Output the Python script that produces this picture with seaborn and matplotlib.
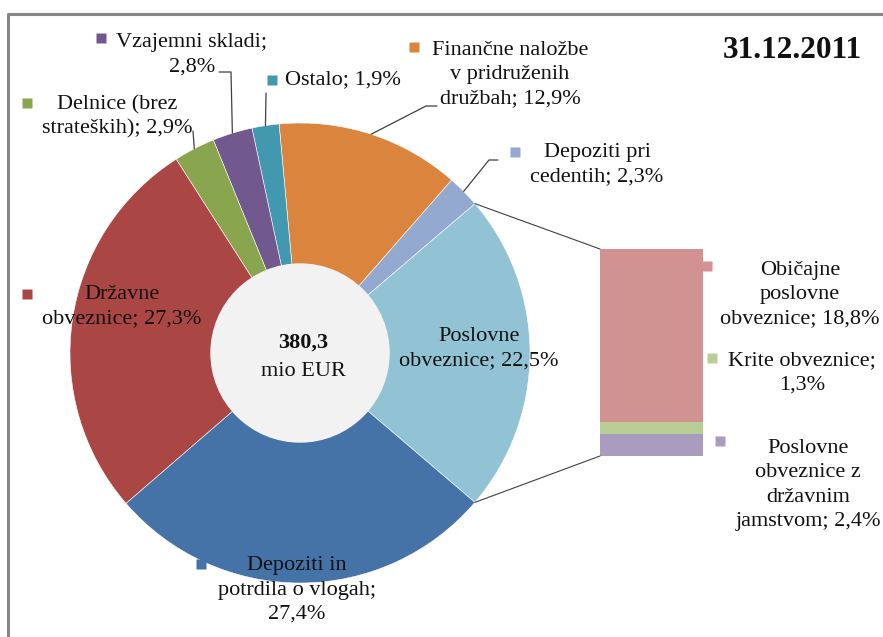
import numpy as np
import matplotlib
matplotlib.use("Agg")
import matplotlib.pyplot as plt
import seaborn as sns
from matplotlib.patches import Circle, ConnectionPatch

sns.set_theme(style="white")
plt.rcParams['font.family'] = ['Liberation Serif', 'DejaVu Serif']

# -------------------------------- data ----------------------------
names = ["Poslovne obveznice", "Depoziti pri cedentih",
         "Finančne naložbe v pridruženih družbah", "Ostalo", "Vzajemni skladi",
         "Delnice (brez strateških)", "Državne obveznice",
         "Depoziti in potrdila o vlogah"]
shares = [22.5, 2.3, 12.9, 1.9, 2.8, 2.9, 27.3, 27.4]
pie_colors = ["#92C3D4", "#94A9D0", "#DB843D", "#4198AF", "#71588F",
              "#89A54E", "#AA4643", "#4572A7"]
# label templates (line breaks as in the original)
pie_templates = ["Poslovne\nobveznice; {}", "Depoziti pri\ncedentih; {}",
                 "Finančne naložbe\nv pridruženih\ndružbah; {}", "Ostalo; {}",
                 "Vzajemni skladi;\n{}", "Delnice (brez\nstrateških); {}",
                 "Državne\nobveznice; {}", "Depoziti in\npotrdila o vlogah;\n{}"]

sub_names = ["Poslovne obveznice z državnim jamstvom", "Krite obveznice",
             "Običajne poslovne obveznice"]
sub_shares = [2.4, 1.3, 18.8]
sub_colors = ["#A99CBE", "#B9CD97", "#D09392"]
sub_templates = ["Poslovne\nobveznice z\ndržavnim\njamstvom; {}",
                 "Krite obveznice;\n{}", "Običajne\nposlovne\nobveznice; {}"]

total = "380,3"
date_title = "31.12.2011"


def pct(v):
    return f"{v:.1f}%".replace(".", ",")


W, H = 883, 637
fig = plt.figure(figsize=(W / 100, H / 100), dpi=100)
fig.patch.set_facecolor("white")

# -------------------------------- pie ----------------------------
cx, cy, r = 300, 353, 230
ax_pie = fig.add_axes([(cx - r) / W, (H - cy - r) / H, 2 * r / W, 2 * r / H])
wedges, _ = ax_pie.pie(shares, colors=pie_colors, startangle=-shares[0] * 3.6 / 2,
                       counterclock=True, radius=1,
                       wedgeprops=dict(edgecolor="white", linewidth=0.4))
ax_pie.add_patch(Circle((0, 0), 0.39, facecolor="#F2F2F2", edgecolor="none", zorder=5))
ax_pie.set_xlim(-1, 1)
ax_pie.set_ylim(-1, 1)
ax_pie.axis("off")

# -------------------------------- bar of pie ----------------------------
bx0, bx1, by0, by1 = 600, 703, 249, 456
ax_bar = fig.add_axes([bx0 / W, (H - by1) / H, (bx1 - bx0) / W, (by1 - by0) / H])
bottom = 0
for v, c in zip(sub_shares, sub_colors):
    ax_bar.bar(0, v, width=1, bottom=bottom, color=c, edgecolor="none")
    bottom += v
ax_bar.set_xlim(-0.5, 0.5)
ax_bar.set_ylim(0, sum(sub_shares))
ax_bar.axis("off")

# connectors pie -> bar
w0 = wedges[0]
for ang, yb in [(w0.theta2, sum(sub_shares)), (w0.theta1, 0)]:
    a = np.deg2rad(ang)
    con = ConnectionPatch(xyA=(np.cos(a), np.sin(a)), coordsA=ax_pie.transData,
                          xyB=(-0.5, yb), coordsB=ax_bar.transData,
                          color="#404040", lw=0.8)
    fig.add_artist(con)

# -------------------------------- overlay for labels ----------------------------
ax = fig.add_axes([0, 0, 1, 1], zorder=10)
ax.set_xlim(0, W)
ax.set_ylim(H, 0)
ax.axis("off")
ax.patch.set_alpha(0)

# frame
ax.plot([8, 8, W + 5], [H + 5, 14, 14], color="#878787", lw=2.2, clip_on=False)

fs = 16
ls = 1.36
tc = "#111111"


def pie_edge(i):
    w = wedges[i]
    a = np.deg2rad((w.theta1 + w.theta2) / 2)
    p = ax_pie.transData.transform((np.cos(a), np.sin(a)))
    return ax.transData.inverted().transform(p)


# label placement: (text center x, text center y, square x, square y, elbow points)
pie_layout = [
    (479, 349, None, None, None),
    (597, 165, 515, 152, [(498, 160), (489, 160)]),
    (510, 75, 414, 47, [(437, 106), (426, 106)]),
    (343, 80, 272, 80, [(266, 93)]),
    (192, 55, 101, 38, [(219, 72), (231, 72)]),
    (117, 117, 27, 103, [(193, 131)]),
    (122, 307, 27, 294, None),
    (297, 590, 201, 564, None),
]
for i, (tx, ty, sx, sy, elbow) in enumerate(pie_layout):
    ax.text(tx, ty, pie_templates[i].format(pct(shares[i])), ha="center", va="center",
            fontsize=fs, color=tc, linespacing=ls, multialignment="center")
    if sx is not None:
        ax.plot(sx, sy, marker="s", ms=6.5, color=pie_colors[i], mec="none")
    if elbow is not None:
        pts = elbow + [tuple(pie_edge(i))]
        xs, ys = zip(*pts)
        ax.plot(xs, ys, color="#404040", lw=0.9)

sub_layout = [
    (808, 485, 720, 441),
    (802, 373, 712, 358),
    (800, 295, 707, 266),
]
for i, (tx, ty, sx, sy) in enumerate(sub_layout):
    ax.text(tx, ty, sub_templates[i].format(pct(sub_shares[i])), ha="center", va="center",
            fontsize=fs, color=tc, linespacing=ls, multialignment="center")
    ax.plot(sx, sy, marker="s", ms=6.5, color=sub_colors[i], mec="none")

# center text and date
ax.text(303, 343, total, ha="center", va="center", fontsize=fs, fontweight="bold", color=tc)
ax.text(303, 371, "mio EUR", ha="center", va="center", fontsize=fs, color=tc)
ax.text(792, 50, date_title, ha="center", va="center", fontsize=22.5, fontweight="bold",
        color=tc)

fig.savefig("out.png", dpi=100)
